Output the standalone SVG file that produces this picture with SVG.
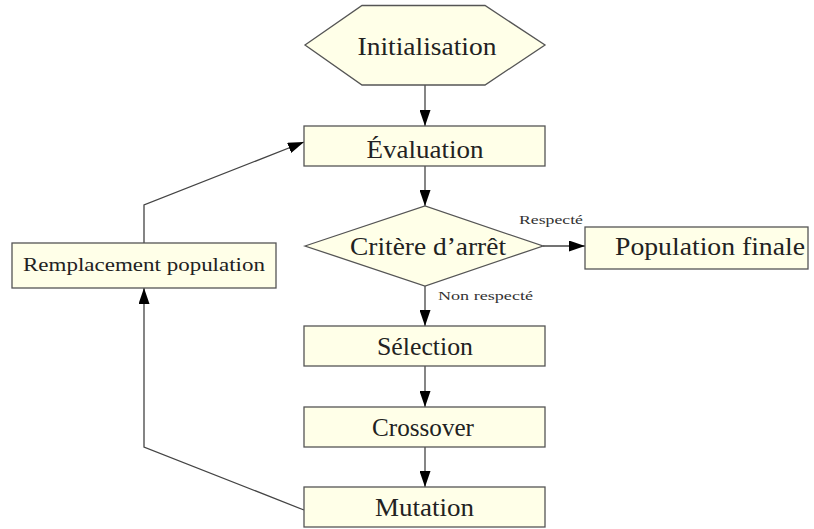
<svg xmlns="http://www.w3.org/2000/svg" width="814" height="529" viewBox="0 0 814 529">
<defs>
<marker id="ah" markerUnits="userSpaceOnUse" markerWidth="17" markerHeight="11" refX="16" refY="5.5" orient="auto">
<path d="M0,0 L16,5.5 L0,11 z" fill="#000"/>
</marker>
<style>
.n{fill:#FFFFE8;stroke:#555;stroke-width:1.3}
.t{font-family:"Liberation Serif","Times New Roman",serif;font-size:25px;fill:#222;text-anchor:middle}
.s{font-family:"Liberation Serif","Times New Roman",serif;font-size:12.5px;fill:#333}
.c{fill:none;stroke:#444;stroke-width:1.3}
</style>
</defs>
<rect width="814" height="529" fill="#fff"/>
<g id="connectors">
<line class="c" x1="425" y1="85" x2="425" y2="126" marker-end="url(#ah)"/>
<line class="c" x1="425" y1="166" x2="425" y2="206" marker-end="url(#ah)"/>
<line class="c" x1="543" y1="246" x2="585" y2="246" marker-end="url(#ah)"/>
<line class="c" x1="425" y1="286" x2="425" y2="326" marker-end="url(#ah)"/>
<line class="c" x1="425" y1="366" x2="425" y2="407" marker-end="url(#ah)"/>
<line class="c" x1="425" y1="447" x2="425" y2="487" marker-end="url(#ah)"/>
<polyline class="c" points="304,510 144,447 144,288" marker-end="url(#ah)"/>
<polyline class="c" points="144,243 144,205 304,142" marker-end="url(#ah)"/>
<text class="s" x="519" y="224" textLength="64" lengthAdjust="spacingAndGlyphs">Respecté</text>
<text class="s" x="438" y="300" textLength="95" lengthAdjust="spacingAndGlyphs">Non respecté</text>
</g>
<g id="initialisation">
<polygon class="n" points="305,45 362,5.5 485,5.5 545,45 485,85 362,85"/>
<text class="t" x="427" y="55" textLength="139" lengthAdjust="spacingAndGlyphs">Initialisation</text>
</g>
<g id="evaluation">
<rect class="n" x="304" y="126" width="241" height="40"/>
<text class="t" x="425" y="158" textLength="117" lengthAdjust="spacingAndGlyphs">Évaluation</text>
</g>
<g id="critere">
<polygon class="n" points="305,246 425,206 543,246 425,286"/>
<text class="t" x="428" y="255" textLength="156" lengthAdjust="spacingAndGlyphs">Critère d’arrêt</text>
</g>
<g id="population-finale">
<rect class="n" x="585" y="227" width="223" height="42"/>
<text class="t" x="710" y="255" textLength="190" lengthAdjust="spacingAndGlyphs">Population finale</text>
</g>
<g id="selection">
<rect class="n" x="304" y="326" width="241" height="40"/>
<text class="t" x="425" y="355" textLength="96" lengthAdjust="spacingAndGlyphs">Sélection</text>
</g>
<g id="crossover">
<rect class="n" x="304" y="407" width="241" height="40"/>
<text class="t" x="423" y="436" textLength="102" lengthAdjust="spacingAndGlyphs">Crossover</text>
</g>
<g id="mutation">
<rect class="n" x="304" y="487" width="241" height="40"/>
<text class="t" x="424.5" y="516" textLength="99" lengthAdjust="spacingAndGlyphs">Mutation</text>
</g>
<g id="remplacement">
<rect class="n" x="12" y="243" width="264" height="45"/>
<text class="t" x="144" y="271" style="font-size:19.5px" textLength="242" lengthAdjust="spacingAndGlyphs">Remplacement population</text>
</g>
</svg>
